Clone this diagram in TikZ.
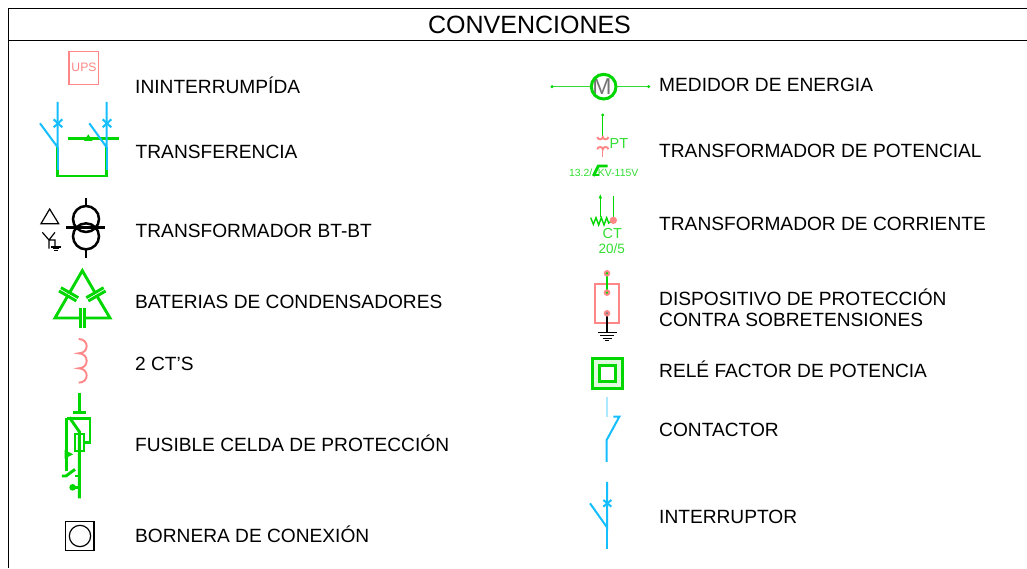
\documentclass[tikz,border=0pt]{standalone}
\usepackage{fontspec}
\setmainfont{Liberation Sans}
\definecolor{gr}{RGB}{0,215,0}
\definecolor{pk}{RGB}{255,135,135}
\definecolor{bl}{RGB}{20,190,255}
\definecolor{lg}{RGB}{50,222,50}
\tikzset{
 lbl/.style={anchor=west,inner sep=0pt,font=\fontsize{19.15}{21}\selectfont,text=black,align=left},
 grn/.style={draw=gr,line width=2.9pt},
 thin green/.style={draw=gr,line width=1.3pt},
 pnk/.style={draw=pk,line width=1.9pt},
 blu/.style={draw=bl,line width=2pt},
 zm/.style={x=0.3333pt,y=-0.3333pt},
}
\begin{document}
\begin{tikzpicture}[x=1pt,y=-1pt]
\useasboundingbox (0,0) rectangle (1027,568);
\fill[white] (0,0) rectangle (1027,568);
% frame
\draw[black,line width=1.4pt] (8.3,568) -- (8.3,8.5) -- (1027,8.5);
\draw[black,line width=1.4pt] (8.3,40.5) -- (1027,40.5);
\node[inner sep=0pt,font=\fontsize{25}{28}\selectfont] (title) at (529.5,25) {CONVENCIONES};
% labels
\node[lbl] (l1) at (135,85) {ININTERRUMPÍDA};
\node[lbl] (l2) at (135.5,152) {TRANSFERENCIA};
\node[lbl] (l3) at (135.5,230.5) {TRANSFORMADOR BT-BT};
\node[lbl] (l4) at (135,302) {BATERIAS DE CONDENSADORES};
\node[lbl] (l5) at (135,364) {2 CT'S};
\node[lbl] (l6) at (135,443) {FUSIBLE CELDA DE PROTECCIÓN};
\node[lbl] (l7) at (135,534) {BORNERA DE CONEXIÓN};
\node[lbl] (r1) at (659,85) {MEDIDOR DE ENERGIA};
\node[lbl] (r2) at (659,151) {TRANSFORMADOR DE POTENCIAL};
\node[lbl] (r3) at (659,224) {TRANSFORMADOR DE CORRIENTE};
\node[lbl,font=\fontsize{19.15}{20.7}\selectfont] (r4) at (659,307.5) {DISPOSITIVO DE PROTECCIÓN\\CONTRA SOBRETENSIONES};
\node[lbl] (r5) at (659,369) {RELÉ FACTOR DE POTENCIA};
\node[lbl] (r6) at (659,430) {CONTACTOR};
\node[lbl] (r7) at (659,517) {INTERRUPTOR};
% UPS
\draw[pnk] (69,51.5) rectangle (98.5,84.5);
\node[inner sep=0pt,text=pk,font=\fontsize{12.2}{14}\selectfont] (ups) at (84,67.5) {UPS};
% Transfer
\begin{scope}[shift={(20,40)},zm]
\draw[grn] (113,322) -- (113,408) -- (260,408) -- (260,322);
\draw[grn] (143,296) -- (296,296);
\fill[gr] (205,283) -- (218,303) -- (192,303) -- cycle;
\draw[blu] (113,186) -- (113,322) -- (60,250);
\draw[blu] (260,186) -- (260,322) -- (208,250);
\draw[blu] (113,322) -- (113,390) (260,322) -- (260,390);
\draw[blu] (101,238) -- (127,262) (127,238) -- (101,262);
\draw[blu] (248,238) -- (274,262) (274,238) -- (248,262);
\end{scope}
% Transformer
\begin{scope}[shift={(20,190)},zm]
\draw[black,line width=1.2pt] (63,101) -- (116,101) -- (89,57) -- cycle;
\draw[black,line width=1.2pt] (67,127) -- (87,150) -- (105,127) (87,150) -- (87,176) (87,150) -- (105,150) -- (105,170);
\draw[black,line width=1.6pt] (94,171) -- (122,171) (98,176) -- (118,176) (102,181) -- (114,181);
\draw[black,line width=2.5pt] (198,87) circle (39) (198,139) circle (39);
\draw[black,line width=2.5pt] (198,24) -- (198,48) (198,178) -- (198,204) (138,113) -- (256,113);
% capacitors
\draw[grn] (146,313) -- (187,242) -- (228,313);
\draw[grn] (146,313) -- (105,384) -- (181,384) (193,384) -- (270,384) -- (228,313);
\fill[white] (146,313) circle (5) (228,313) circle (5);
\draw[grn] (123,293) -- (175,323) (117,303) -- (169,333);
\draw[grn] (251,293) -- (199,323) (257,303) -- (205,333);
\draw[grn] (181,355) -- (181,415) (193,355) -- (193,415);
\end{scope}
% Coil, fuse, terminal
\begin{scope}[shift={(30,330)},zm]
\draw[pnk] (146,27) .. controls (178,27) and (178,70) .. (146,70)
 .. controls (178,70) and (178,115) .. (146,115)
 .. controls (178,115) and (178,158) .. (146,158);
\draw[grn] (148,190) -- (148,250) (128,247) -- (168,247);
\draw[grn] (118,262) -- (148,305) -- (148,505);
\draw[grn] (110,265) -- (180,265) -- (180,338) -- (162,338);
\draw[grn] (135,312) rectangle (162,363);
\draw[grn] (110,265) -- (110,422);
\fill[gr] (104,360) -- (130,373) -- (104,386) -- cycle;
\draw[grn] (96,438) -- (108,438) -- (135,418);
\draw[grn] (135,438) -- (148,438);
\fill[gr] (128,472) circle (10);
\draw[grn] (120,472) -- (148,472);
\draw[black,line width=1.2pt] (106,574) rectangle (192,661);
\draw[black,line width=1.2pt] (150,618) circle (32);
\end{scope}
% Meter, PT
\begin{scope}[shift={(540,60)},zm]
\draw[lg,line width=1pt] (36,80) -- (153,80) (229,80) -- (326,80);
\fill[gr] (36,80) circle (5) (326,80) circle (5);
\node[inner sep=0pt,text=black!55,font=\fontsize{23}{26}\selectfont] (m) at (186,80) {M};
\draw[draw=gr,line width=3pt] (191,80) circle (37);
\draw[thin green] (188,165) -- (188,232);
\fill[gr] (188,165) circle (5);
\draw[pnk] (172,231) arc (180:0:8.25 and 7) arc (180:0:8.25 and 7);
\draw[pnk] (172,268) arc (180:360:8.25 and 7) arc (180:360:8.25 and 7);
\draw[pnk,line width=1.3pt] (188,262) -- (188,292);
\node[inner sep=0pt,text=lg,font=\fontsize{14.5}{16}\selectfont] (pt) at (237,250) {PT};
\node[inner sep=0pt,text=lg,font=\fontsize{10.4}{12}\selectfont] (v) at (191,337) {13.2/\phantom{3}KV-115V};
\draw[grn] (160,348) -- (175,318) -- (203,318);
\draw[grn] (160,345) -- (178,345);
\end{scope}
% CT, SPD
\begin{scope}[shift={(560,185)},zm]
\draw[thin green] (121,32) -- (121,97);
\fill[gr] (121,28) -- (126,40) -- (116,40) -- cycle;
\draw[thin green] (160,33) -- (160,106);
\draw[draw=gr,line width=1.4pt] (92,98) -- (100,118) -- (108,98) -- (116,120) -- (124,98) -- (132,120) -- (140,98) -- (146,114) -- (160,106);
\fill[pk] (160,106) circle (11);
\node[inner sep=0pt,text=lg,font=\fontsize{14.5}{16}\selectfont] (ct) at (157,147) {CT};
\node[inner sep=0pt,text=lg,font=\fontsize{13.5}{15}\selectfont] (r) at (155,190) {20/5};
\draw[pnk,line width=2.2pt] (105,297) rectangle (177,415);
\draw[grn] (141,265) -- (141,323);
\draw[black,line width=1.3pt] (141,385) -- (141,442);
\draw[black,line width=1.3pt] (113,442) -- (170,442) (120,452) -- (163,452) (128,460) -- (155,460) (135,467) -- (148,467);
\fill[pk] (141,265) circle (10) (141,323) circle (10) (141,385) circle (10);
\fill[gr] (141,265) circle (4) (141,323) circle (4);
\fill[gray] (141,385) circle (4);
\end{scope}
% Relay, contactor, breaker
\begin{scope}[shift={(570,350)},zm]
\draw[draw=gr!12,line width=6pt] (78,36) rectangle (147,104);
\draw[draw=gr,line width=3pt] (68,26) rectangle (157,114);
\draw[draw=gr,line width=3pt] (88,46) rectangle (137,94);
\draw[draw=bl!35,line width=2pt] (110,140) -- (110,200);
\draw[blu] (130,200) -- (148,200) -- (110,270) -- (110,336);
\draw[blu] (111,396) -- (111,532) -- (60,460);
\draw[blu] (111,532) -- (111,596);
\draw[blu] (100,450) -- (124,470) (124,450) -- (100,470);
\end{scope}
\end{tikzpicture}
\end{document}
